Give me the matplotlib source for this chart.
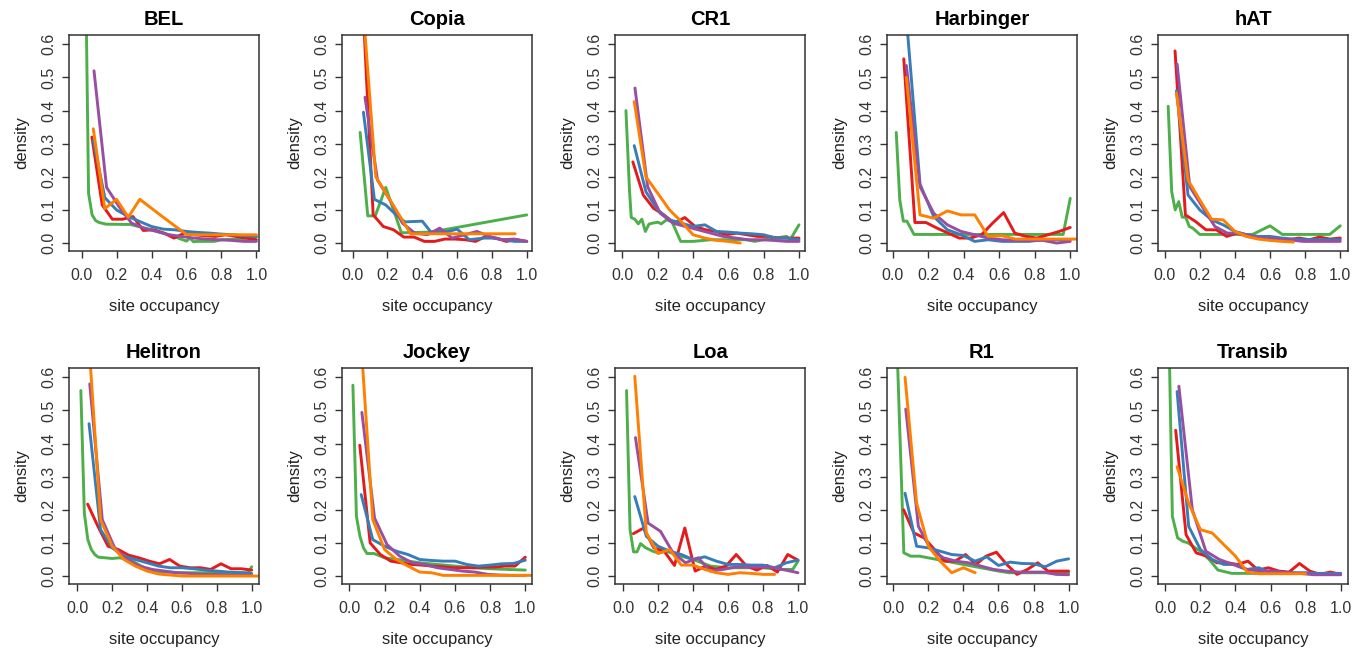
import matplotlib
matplotlib.use("Agg")
import matplotlib.pyplot as plt

plt.rcParams['font.family'] = ['Liberation Sans', 'DejaVu Sans']

# shared bin positions (site occupancy k/n)
X13 = [0.077, 0.154, 0.231, 0.308, 0.385, 0.462, 0.538, 0.615, 0.692, 0.769, 0.846, 0.923, 1.0]
X14 = [0.071, 0.143, 0.214, 0.286, 0.357, 0.429, 0.5, 0.571, 0.643, 0.714, 0.786, 0.857, 0.929, 1.0]
X15 = [0.067, 0.133, 0.2, 0.267, 0.333, 0.4, 0.467, 0.533, 0.6, 0.667, 0.733, 0.8, 0.867, 0.933, 1.0]
X16 = [0.0625, 0.125, 0.1875, 0.25, 0.3125, 0.375, 0.4375, 0.5, 0.5625, 0.625, 0.6875, 0.75, 0.8125, 0.875, 0.9375, 1.0]
X17 = [0.059, 0.118, 0.176, 0.235, 0.294, 0.353, 0.412, 0.471, 0.529, 0.588, 0.647, 0.706, 0.765, 0.824, 0.882, 0.941, 1.0]

families = ["BEL", "Copia", "CR1", "Harbinger", "hAT", "Helitron", "Jockey", "Loa", "R1", "Transib"]

# BEL
bel_green = ([0.02, 0.04, 0.06, 0.08, 0.1, 0.14, 0.28, 0.4, 0.5, 0.6, 0.62, 0.64, 0.66, 0.76, 0.8, 0.9, 1.0],
             [0.95, 0.15, 0.085, 0.068, 0.062, 0.057, 0.056, 0.04, 0.025, 0.006, 0.015, 0.004, 0.005, 0.005, 0.01, 0.012, 0.018])
bel_red = (X17, [0.32, 0.115, 0.072, 0.072, 0.08, 0.038, 0.04, 0.03, 0.015, 0.03, 0.025, 0.022, 0.02, 0.025, 0.02, 0.015, 0.01])
bel_blue = (X15, [0.31, 0.137, 0.1, 0.08, 0.065, 0.05, 0.042, 0.04, 0.035, 0.032, 0.03, 0.027, 0.025, 0.022, 0.02])
bel_purple = (X14, [0.52, 0.168, 0.11, 0.06, 0.045, 0.035, 0.025, 0.02, 0.015, 0.012, 0.01, 0.008, 0.005, 0.005])
bel_orange = (X15, [0.345, 0.104, 0.132, 0.078, 0.132, 0.105, 0.078, 0.052, 0.026, 0.025, 0.025, 0.025, 0.025, 0.025, 0.025])

# Copia
copia_green = ([0.043, 0.087, 0.13, 0.19, 0.28, 0.45, 1.0],
               [0.334, 0.082, 0.082, 0.168, 0.031, 0.033, 0.085])
copia_red = (X17, [0.72, 0.085, 0.05, 0.04, 0.018, 0.018, 0.005, 0.005, 0.012, 0.012, 0.01, 0.005, 0.02, 0.015, 0.005, 0.01, 0.005])
copia_blue = ([0.062, 0.125, 0.19, 0.25, 0.3, 0.4, 0.45, 0.55, 0.6, 0.67, 0.75, 0.8, 0.87, 0.93, 1.0],
              [0.395, 0.132, 0.115, 0.085, 0.064, 0.066, 0.033, 0.035, 0.042, 0.01, 0.015, 0.015, 0.01, 0.005, 0.005])
copia_purple = (X14, [0.44, 0.19, 0.13, 0.06, 0.03, 0.025, 0.045, 0.015, 0.025, 0.035, 0.02, 0.01, 0.012, 0.005])
copia_orange = (X15[:14], [0.66, 0.2, 0.143, 0.085, 0.028, 0.028, 0.028, 0.028, 0.028, 0.028, 0.028, 0.028, 0.028, 0.028])

# CR1
cr1_green = ([0.02, 0.04, 0.05, 0.07, 0.09, 0.11, 0.13, 0.15, 0.17, 0.2, 0.22, 0.25, 0.28, 0.33, 0.4, 0.5, 0.55, 0.7, 0.75, 0.8, 0.93, 0.95, 1.0],
             [0.4, 0.16, 0.077, 0.072, 0.058, 0.072, 0.035, 0.057, 0.06, 0.063, 0.058, 0.07, 0.065, 0.005, 0.005, 0.01, 0.01, 0.01, 0.005, 0.01, 0.02, 0.01, 0.055])
cr1_red = (X17, [0.245, 0.145, 0.105, 0.085, 0.06, 0.077, 0.05, 0.04, 0.035, 0.025, 0.03, 0.025, 0.02, 0.02, 0.015, 0.015, 0.015])
cr1_blue = (X15, [0.294, 0.155, 0.1, 0.07, 0.06, 0.05, 0.055, 0.035, 0.033, 0.03, 0.028, 0.025, 0.015, 0.015, 0.01])
cr1_purple = (X14, [0.468, 0.17, 0.09, 0.06, 0.05, 0.04, 0.03, 0.02, 0.015, 0.01, 0.01, 0.008, 0.005, 0.005])
cr1_orange = (X15[:10], [0.427, 0.2, 0.15, 0.1, 0.065, 0.025, 0.015, 0.008, 0.005, 0.0])

# Harbinger
harb_green = ([0.02, 0.04, 0.06, 0.08, 0.12, 0.96, 1.0],
              [0.334, 0.13, 0.066, 0.066, 0.026, 0.026, 0.135])
harb_red = (X16, [0.556, 0.062, 0.062, 0.045, 0.03, 0.015, 0.015, 0.025, 0.06, 0.092, 0.03, 0.02, 0.015, 0.025, 0.035, 0.047])
harb_blue = (X13, [0.68, 0.178, 0.08, 0.04, 0.025, 0.005, 0.01, 0.005, 0.005, 0.005, 0.01, 0.01, 0.01])
harb_purple = (X13, [0.536, 0.17, 0.09, 0.055, 0.035, 0.025, 0.015, 0.01, 0.008, 0.008, 0.008, 0.0, 0.005])
harb_orange = (X13 + [1.077], [0.5, 0.085, 0.075, 0.097, 0.085, 0.085, 0.02, 0.022, 0.012, 0.012, 0.012, 0.012, 0.012, 0.012])

# hAT
hat_green = ([0.02, 0.04, 0.06, 0.08, 0.1, 0.12, 0.14, 0.16, 0.2, 0.5, 0.6, 0.67, 0.94, 1.0],
             [0.413, 0.155, 0.1, 0.125, 0.078, 0.078, 0.05, 0.045, 0.026, 0.026, 0.052, 0.026, 0.026, 0.052])
hat_red = (X17, [0.58, 0.085, 0.065, 0.04, 0.04, 0.02, 0.03, 0.02, 0.015, 0.015, 0.01, 0.01, 0.015, 0.01, 0.018, 0.012, 0.015])
hat_blue = (X15, [0.46, 0.145, 0.1, 0.07, 0.055, 0.035, 0.025, 0.02, 0.02, 0.015, 0.012, 0.01, 0.01, 0.01, 0.01])
hat_purple = (X14, [0.54, 0.17, 0.11, 0.05, 0.03, 0.03, 0.02, 0.015, 0.012, 0.01, 0.005, 0.005, 0.005, 0.005])
hat_orange = (X15[:11], [0.453, 0.19, 0.13, 0.072, 0.07, 0.035, 0.02, 0.012, 0.008, 0.005, 0.003])

# Helitron
heli_green = ([0.02, 0.04, 0.06, 0.08, 0.1, 0.12, 0.16, 0.2, 0.24, 0.3, 0.35, 0.4, 0.45, 0.5, 0.6, 0.8, 0.98, 1.0],
              [0.56, 0.19, 0.11, 0.08, 0.065, 0.057, 0.055, 0.053, 0.055, 0.05, 0.035, 0.02, 0.015, 0.012, 0.01, 0.01, 0.01, 0.028])
heli_red = (X17, [0.217, 0.15, 0.09, 0.08, 0.063, 0.055, 0.045, 0.037, 0.05, 0.03, 0.025, 0.025, 0.02, 0.037, 0.022, 0.022, 0.018])
heli_blue = (X15, [0.46, 0.14, 0.085, 0.06, 0.05, 0.04, 0.03, 0.025, 0.025, 0.022, 0.018, 0.015, 0.012, 0.01, 0.008])
heli_purple = (X14, [0.58, 0.17, 0.085, 0.05, 0.03, 0.02, 0.015, 0.01, 0.008, 0.005, 0.005, 0.003, 0.002, 0.002])
heli_orange = (X15 + [1.067], [0.7, 0.17, 0.09, 0.05, 0.03, 0.015, 0.006, 0.003, 0.0, 0.0, 0.0, 0.0, 0.0, 0.0, 0.0, 0.0])

# Jockey
jock_green = ([0.02, 0.04, 0.06, 0.08, 0.1, 0.14, 0.2, 0.3, 0.4, 0.5, 0.6, 0.7, 0.8, 0.9, 1.0],
              [0.576, 0.18, 0.12, 0.085, 0.068, 0.068, 0.055, 0.048, 0.04, 0.035, 0.03, 0.025, 0.022, 0.02, 0.018])
jock_red = (X17, [0.395, 0.1, 0.065, 0.045, 0.04, 0.035, 0.033, 0.03, 0.028, 0.025, 0.025, 0.025, 0.027, 0.027, 0.03, 0.03, 0.057])
jock_blue = (X15, [0.246, 0.11, 0.09, 0.075, 0.065, 0.05, 0.047, 0.045, 0.045, 0.035, 0.03, 0.033, 0.037, 0.038, 0.048])
jock_purple = (X14, [0.494, 0.175, 0.095, 0.06, 0.04, 0.035, 0.025, 0.02, 0.015, 0.012, 0.005, 0.003, 0.002, 0.002])
jock_orange = (X15 + [1.067], [0.7, 0.17, 0.08, 0.05, 0.03, 0.012, 0.01, 0.002, 0.002, 0.002, 0.002, 0.002, 0.002, 0.002, 0.002, 0.002])

# Loa
loa_green = ([0.02, 0.04, 0.06, 0.08, 0.1, 0.13, 0.17, 0.2, 0.25, 0.3, 0.4, 0.5, 0.6, 0.7, 0.8, 0.9, 0.97, 1.0],
             [0.56, 0.14, 0.073, 0.073, 0.098, 0.085, 0.075, 0.07, 0.075, 0.065, 0.05, 0.03, 0.025, 0.025, 0.025, 0.02, 0.02, 0.045])
loa_red = (X17, [0.128, 0.145, 0.085, 0.075, 0.032, 0.145, 0.015, 0.03, 0.02, 0.03, 0.065, 0.03, 0.018, 0.032, 0.012, 0.065, 0.048])
loa_blue = (X15, [0.24, 0.12, 0.09, 0.075, 0.065, 0.05, 0.058, 0.045, 0.035, 0.035, 0.033, 0.033, 0.025, 0.04, 0.048])
loa_purple = (X14, [0.418, 0.16, 0.135, 0.07, 0.04, 0.055, 0.015, 0.02, 0.027, 0.027, 0.027, 0.025, 0.018, 0.01])
loa_orange = (X15[:13], [0.603, 0.13, 0.068, 0.08, 0.033, 0.033, 0.02, 0.01, 0.005, 0.01, 0.008, 0.005, 0.005])

# R1
r1_green = ([0.022, 0.06, 0.1, 0.15, 0.2, 0.3, 0.4, 0.5, 0.6, 0.66, 0.8, 1.0],
            [0.68, 0.07, 0.06, 0.06, 0.055, 0.045, 0.035, 0.025, 0.015, 0.01, 0.01, 0.01])
r1_red = (X17, [0.2, 0.13, 0.115, 0.08, 0.045, 0.045, 0.065, 0.035, 0.06, 0.072, 0.035, 0.005, 0.02, 0.04, 0.015, 0.015, 0.015])
r1_blue = (X15, [0.25, 0.09, 0.085, 0.075, 0.065, 0.062, 0.045, 0.058, 0.032, 0.042, 0.038, 0.037, 0.028, 0.045, 0.052])
r1_purple = (X14, [0.504, 0.15, 0.08, 0.055, 0.045, 0.04, 0.03, 0.02, 0.015, 0.012, 0.012, 0.012, 0.005, 0.004])
r1_orange = (X15[:7], [0.6, 0.22, 0.09, 0.045, 0.01, 0.025, 0.01])

# Transib
tran_green = ([0.02, 0.04, 0.07, 0.1, 0.13, 0.17, 0.2, 0.25, 0.3, 0.38, 0.5, 1.0],
              [0.75, 0.18, 0.115, 0.105, 0.1, 0.085, 0.075, 0.05, 0.018, 0.008, 0.008, 0.008])
tran_red = (X17, [0.44, 0.125, 0.07, 0.06, 0.04, 0.04, 0.035, 0.045, 0.018, 0.025, 0.015, 0.012, 0.038, 0.015, 0.005, 0.012, 0.005])
tran_blue = (X15, [0.557, 0.15, 0.08, 0.05, 0.035, 0.035, 0.02, 0.025, 0.01, 0.01, 0.01, 0.01, 0.008, 0.008, 0.008])
tran_purple = (X13, [0.573, 0.2, 0.075, 0.05, 0.035, 0.02, 0.015, 0.015, 0.01, 0.008, 0.004, 0.004, 0.004])
tran_orange = (X15[:12], [0.33, 0.22, 0.14, 0.13, 0.095, 0.06, 0.012, 0.007, 0.007, 0.007, 0.007, 0.007])

panel_lines = [
    [bel_green, bel_red, bel_blue, bel_purple, bel_orange],
    [copia_green, copia_red, copia_blue, copia_purple, copia_orange],
    [cr1_green, cr1_red, cr1_blue, cr1_purple, cr1_orange],
    [harb_green, harb_red, harb_blue, harb_purple, harb_orange],
    [hat_green, hat_red, hat_blue, hat_purple, hat_orange],
    [heli_green, heli_red, heli_blue, heli_purple, heli_orange],
    [jock_green, jock_red, jock_blue, jock_purple, jock_orange],
    [loa_green, loa_red, loa_blue, loa_purple, loa_orange],
    [r1_green, r1_red, r1_blue, r1_purple, r1_orange],
    [tran_green, tran_red, tran_blue, tran_purple, tran_orange],
]

colors = ["#4DAF4A", "#E41A1C", "#377EB8", "#984EA3", "#FF7F00"]

# x range of each panel (as drawn)
xlims = [(-0.072, 1.015), (-0.061, 1.03), (-0.042, 1.034), (-0.032, 1.038), (-0.038, 1.044),
         (-0.048, 1.042), (-0.042, 1.038), (-0.046, 1.04), (-0.036, 1.048), (-0.042, 1.042)]

W, H = 1366, 652
fig = plt.figure(figsize=(W / 100, H / 100), dpi=100)

col_left = [69, 342, 615, 887, 1158]
row_top = [35, 368]
box_w, box_h = 190, 216

for i, name in enumerate(families):
    r, c = divmod(i, 5)
    ax = fig.add_axes([col_left[c] / W, 1 - (row_top[r] + box_h) / H, box_w / W, box_h / H])
    for (xs, ys), col in zip(panel_lines[i], colors):
        ax.plot(xs, ys, color=col, lw=2.1, solid_capstyle='round', solid_joinstyle='round')
    ax.set_xlim(*xlims[i])
    ax.set_ylim(-0.024, 0.628)
    ax.set_xticks([0, 0.2, 0.4, 0.6, 0.8, 1.0])
    ax.set_xticklabels(["0.0", "0.2", "0.4", "0.6", "0.8", "1.0"])
    ax.set_yticks([0, 0.1, 0.2, 0.3, 0.4, 0.5, 0.6])
    ax.set_yticklabels(["0.0", "0.1", "0.2", "0.3", "0.4", "0.5", "0.6"], rotation=90, va='center')
    ax.tick_params(direction='out', length=5, width=1, colors='#333333', labelsize=11.5,
                   labelcolor='#333333')
    ax.tick_params(axis='x', pad=7)
    ax.tick_params(axis='y', pad=4)
    for sp in ax.spines.values():
        sp.set_color('#333333')
        sp.set_linewidth(1.1)
    ax.set_title(name, fontsize=14.5, fontweight='bold', pad=7)
    ax.set_xlabel("site occupancy", fontsize=12, labelpad=12, color='#222222')
    ax.set_ylabel("density", fontsize=12, labelpad=9, color='#222222')

fig.savefig("out.png", dpi=100)
